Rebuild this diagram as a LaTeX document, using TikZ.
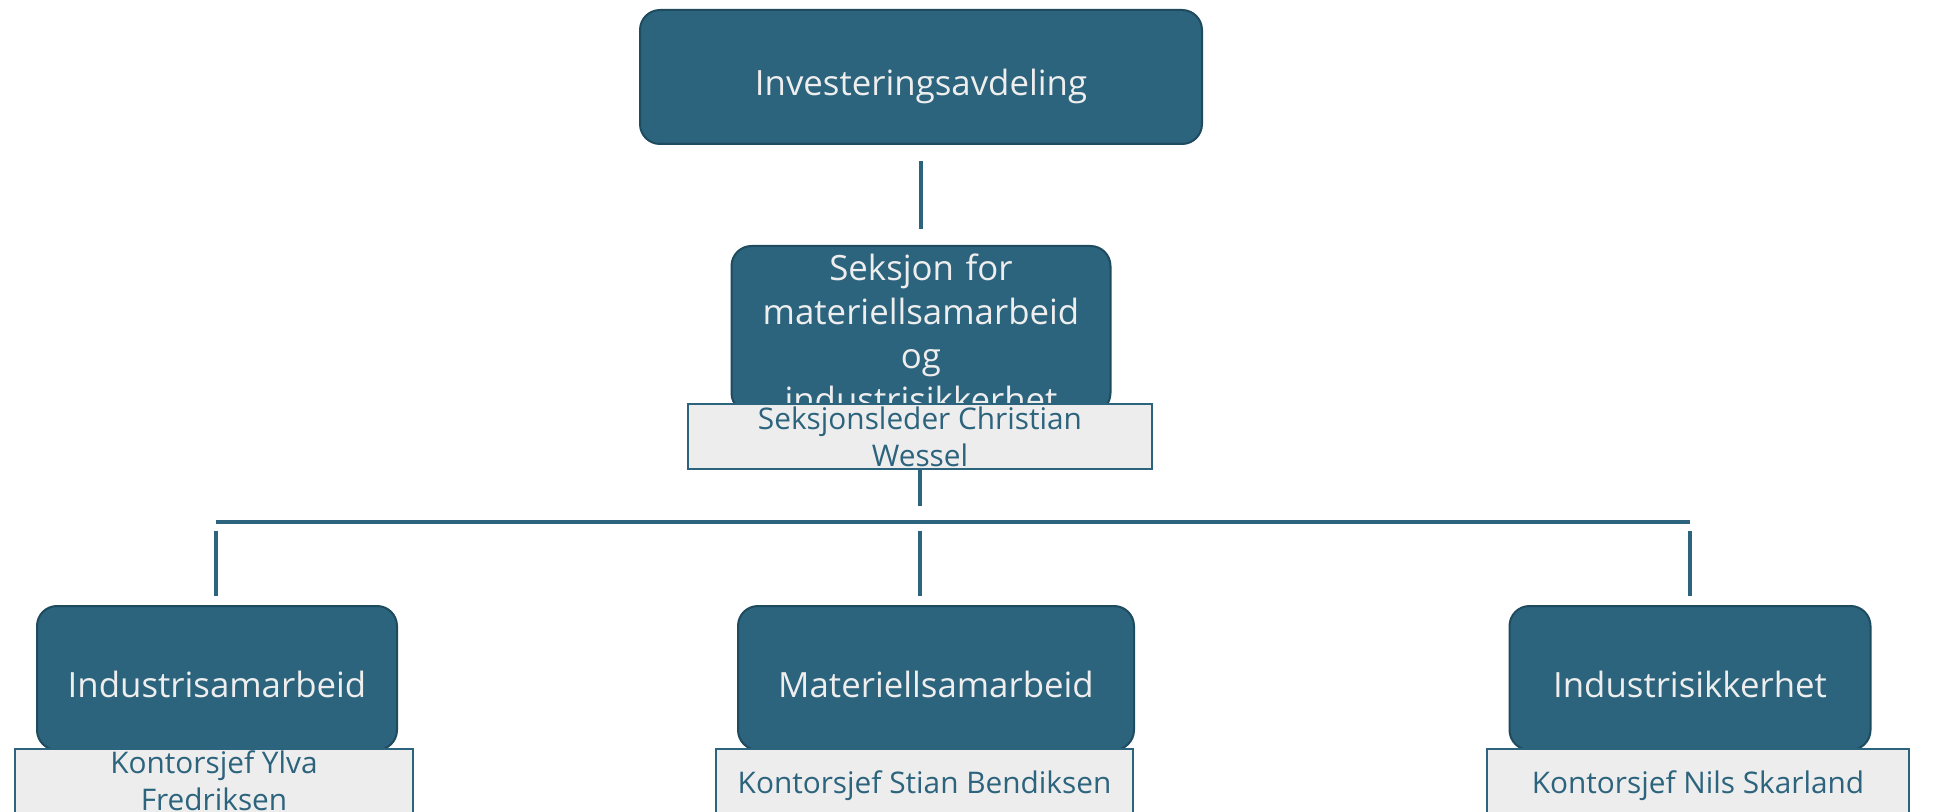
\documentclass[tikz,border=0pt]{standalone}
\usepackage{fontspec}
\setmainfont{Open Sans}
\definecolor{orgteal}{HTML}{2C637D}
\definecolor{orgdark}{HTML}{1F4B5F}
\definecolor{orgtext}{HTML}{EEEEEE}
\definecolor{orggrey}{HTML}{EDEDED}
\begin{document}
\begin{tikzpicture}[x=0.5pt,y=-0.5pt,
  unit/.style={draw=orgdark,fill=orgteal,text=orgtext,rounded corners=10pt,line width=1pt,
    inner sep=0pt,align=center,font=\fontsize{17.4}{22}\selectfont},
  leader/.style={draw=orgteal,fill=orggrey,text=orgteal,line width=1pt,inner sep=0pt,
    align=center,minimum height=32.5pt,font=\fontsize{14.9}{18.5}\selectfont},
  oneline/.style={text height=#1,text depth=0pt},
  link/.style={draw=orgteal,line width=1.6pt}]
\useasboundingbox (0,0) rectangle (1959,812);
\node[unit,oneline=19pt,minimum width=281pt,minimum height=67pt] (inv) at (921,77) {Investeringsavdeling};
\node[unit,anchor=north,text width=189.5pt,text height=17.5pt,text depth=66pt] (sek) at (921,245)
  {Seksjon for\\materiellsamarbeid\\og\\industrisikkerhet};
\node[leader,minimum width=232pt] (sekleder) at (920,436.5) {Seksjonsleder Christian\\Wessel};
\node[unit,oneline=19pt,minimum width=180pt,minimum height=72pt] (ind) at (217,678) {Industrisamarbeid};
\node[unit,oneline=19pt,minimum width=198pt,minimum height=72pt] (mat) at (936,678) {Materiellsamarbeid};
\node[unit,oneline=19pt,minimum width=180.5pt,minimum height=72pt] (sik) at (1690,678) {Industrisikkerhet};
\node[leader,minimum width=199pt] (indleder) at (214,781) {Kontorsjef Ylva\\Fredriksen};
\node[leader,oneline=12pt,minimum width=208.5pt] (matleder) at (924.5,781) {Kontorsjef Stian Bendiksen};
\node[leader,oneline=12pt,minimum width=211pt] (sikleder) at (1698,781) {Kontorsjef Nils Skarland};
% bus line
\coordinate (busl) at (216,522);
\coordinate (bus) at (920,522);
\coordinate (busr) at (1690,522);
\draw[link] ([yshift=-8pt]inv.south) -- ([yshift=8pt]sek.north);
\draw[link] (sekleder.south) -- ([yshift=8pt]bus);
\draw[link] (busl) -- (busr);
\foreach \b/\n in {busl/ind,bus/mat,busr/sik}
  \draw[link] ([yshift=-4.5pt]\b) -- ([yshift=4.5pt]\n.north -| \b);
\end{tikzpicture}
\end{document}
